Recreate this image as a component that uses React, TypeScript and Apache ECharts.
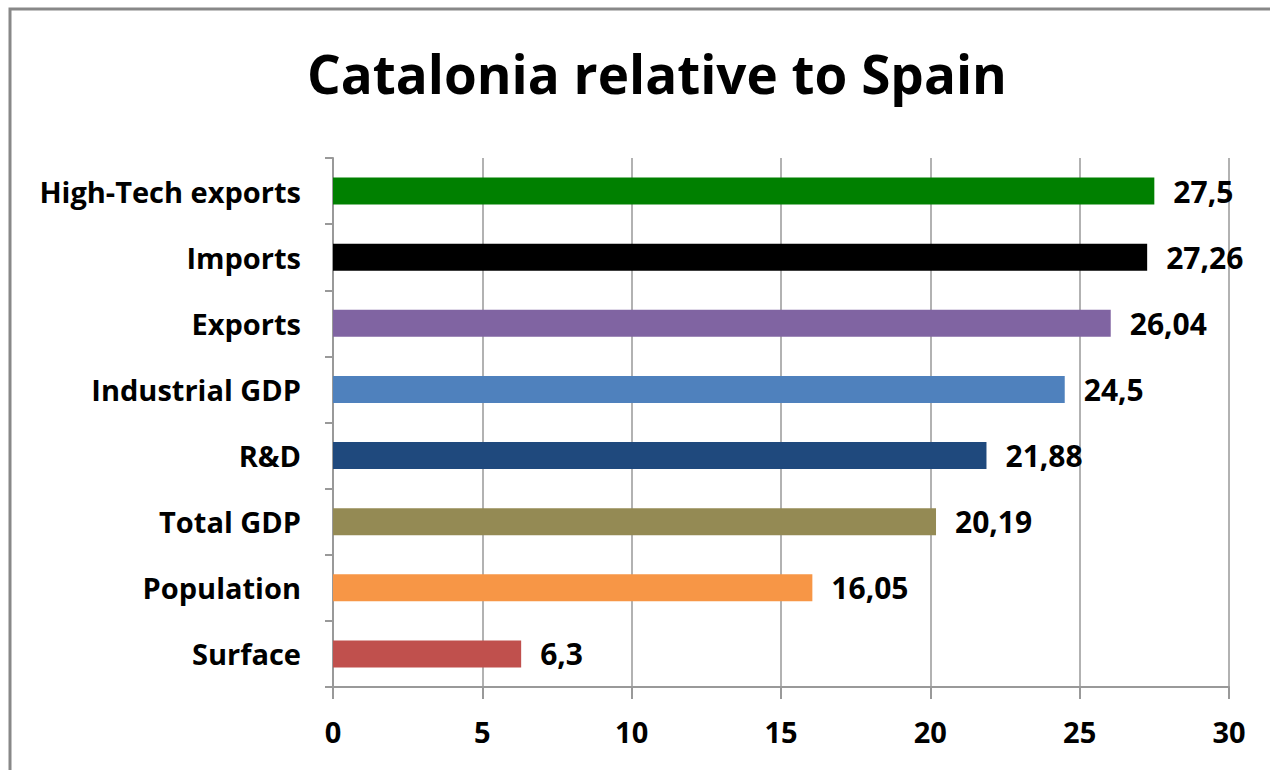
import React, { useEffect, useRef } from "react";
import * as echarts from "echarts";

const categories = [
  "Surface",
  "Population",
  "Total GDP",
  "R&D",
  "Industrial GDP",
  "Exports",
  "Imports",
  "High-Tech exports",
];
const values = [6.3, 16.05, 20.19, 21.88, 24.5, 26.04, 27.26, 27.5];
const colors = [
  "#C0504D",
  "#F79646",
  "#948A54",
  "#1F497D",
  "#4F81BD",
  "#8064A2",
  "#000000",
  "#008000",
];
const xTicks = { min: 0, max: 30, interval: 5 };
const title = "Catalonia relative to Spain";

const FONT = "Open Sans";

export default function App() {
  const ref = useRef<HTMLDivElement>(null);
  useEffect(() => {
    if (!ref.current) return;
    const chart = echarts.init(ref.current, null, { renderer: "svg" });
    chart.setOption({
      animation: false,
      backgroundColor: "#ffffff",
      title: {
        text: title,
        left: 302,
        top: 42,
        textStyle: {
          fontFamily: FONT,
          fontWeight: "bold",
          fontSize: 53,
          color: "#000",
        },
      },
      graphic: [
        {
          type: "rect",
          shape: { x: 10, y: 9, width: 1300, height: 800 },
          style: { fill: "none", stroke: "#888888", lineWidth: 3 },
          silent: true,
        },
      ],
      grid: { left: 333, right: 41, top: 158, bottom: 83 },
      xAxis: {
        type: "value",
        min: xTicks.min,
        max: xTicks.max,
        interval: xTicks.interval,
        axisLine: { show: true, lineStyle: { color: "#999", width: 2 } },
        axisTick: { show: true, length: 12, lineStyle: { color: "#999", width: 2 } },
        splitLine: { show: true, lineStyle: { color: "#999", width: 1.5 } },
        axisLabel: {
          margin: 30,
          fontFamily: FONT,
          fontWeight: "bold",
          fontSize: 29,
          color: "#000",
        },
      },
      yAxis: {
        type: "category",
        data: categories,
        axisLine: { show: true, lineStyle: { color: "#999", width: 2 } },
        axisTick: { show: true, length: 8, lineStyle: { color: "#999", width: 2 } },
        axisLabel: {
          margin: 32,
          fontFamily: FONT,
          fontWeight: "bold",
          fontSize: 29,
          color: "#000",
        },
      },
      series: [
        {
          type: "bar",
          barWidth: 27,
          data: values.map((v, i) => ({ value: v, itemStyle: { color: colors[i] } })),
          label: {
            show: true,
            position: "right",
            distance: 19,
            fontFamily: FONT,
            fontWeight: "bold",
            fontSize: 30,
            color: "#000",
            formatter: (p: any) => String(p.value).replace(".", ","),
          },
        },
      ],
    });
    return () => chart.dispose();
  }, []);
  return (
    <div
      ref={ref}
      style={{ position: "fixed", left: 0, top: 0, width: 1270, height: 770 }}
    />
  );
}
